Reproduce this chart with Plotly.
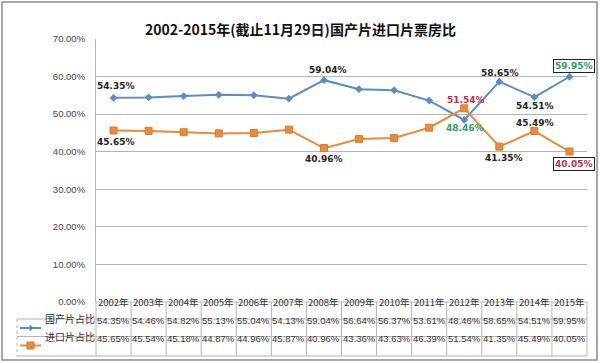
import plotly.graph_objects as go

years = ["2002年", "2003年", "2004年", "2005年", "2006年", "2007年", "2008年",
         "2009年", "2010年", "2011年", "2012年", "2013年", "2014年", "2015年"]
domestic = [54.35, 54.46, 54.82, 55.13, 55.04, 54.13, 59.04,
            56.64, 56.37, 53.61, 48.46, 58.65, 54.51, 59.95]
imported = [45.65, 45.54, 45.18, 44.87, 44.96, 45.87, 40.96,
            43.36, 43.63, 46.39, 51.54, 41.35, 45.49, 40.05]
series_names = ["国产片占比", "进口片占比"]
title = "2002-2015年(截止11月29日)国产片进口片票房比"

BLUE = "#5b8cc4"
ORANGE = "#ea8a3c"
GRID = "#b4b4b4"
W, H = 600, 363
L, R, T, B = 96, 13, 39, 61
PH = H - T - B

def py(p):  # pixel y -> paper y
    return (H - B - p) / PH

def px(p):  # pixel x -> paper x
    return (p - L) / (W - L - R)

fig = go.Figure()
fig.add_trace(go.Scatter(x=years, y=domestic, mode="lines+markers", name=series_names[0],
                         line=dict(color=BLUE, width=2),
                         marker=dict(symbol="diamond", size=6, color=BLUE)))
fig.add_trace(go.Scatter(x=years, y=imported, mode="lines+markers", name=series_names[1],
                         line=dict(color=ORANGE, width=2),
                         marker=dict(symbol="square", size=7, color=ORANGE,
                                     line=dict(color="#d87a2c", width=1))))

ann = []
# data labels: (series, index, dx, dy, color, boxed)
label_specs = [
    (0, 0, 2, -12, "#222", False),
    (1, 0, 2, 12, "#222", False),
    (0, 6, 4, -10, "#222", False),
    (1, 6, 0, 11, "#222", False),
    (1, 10, 2, -8, "#c0304a", False),
    (0, 10, 1, 8, "#2aa060", False),
    (0, 11, 1, -9, "#222", False),
    (1, 11, 5, 11, "#222", False),
    (0, 12, 1, 9, "#222", False),
    (1, 12, 1, -8, "#222", False),
    (0, 13, 5, -11, "#2aa060", True),
    (1, 13, 5, 12, "#c0304a", True),
]
data = [domestic, imported]
for s, i, dx, dy, col, boxed in label_specs:
    v = data[s][i]
    ann.append(dict(x=years[i], y=v, xref="x", yref="y", text=f"<b>{v:.2f}%</b>",
                    showarrow=False, xshift=dx, yshift=-dy,
                    font=dict(family="DejaVu Sans", size=9, color=col),
                    bordercolor="#222" if boxed else None,
                    borderwidth=1 if boxed else 0, borderpad=1,
                    bgcolor="white" if boxed else None))

# table
row_y = [311, 328, 345.5]
lines_y = [302, 319, 336.5, 356]
shapes = []
for k in range(len(years) + 1):
    xx = px(L + k * (W - L - R) / len(years))
    shapes.append(dict(type="line", xref="paper", yref="paper", x0=xx, x1=xx,
                       y0=py(lines_y[0]), y1=py(lines_y[3]),
                       line=dict(color=GRID, width=1)))
for j, ly in enumerate(lines_y):
    x0 = px(L) if j == 0 else px(17)
    shapes.append(dict(type="line", xref="paper", yref="paper", x0=x0, x1=1,
                       y0=py(ly), y1=py(ly), line=dict(color=GRID, width=1)))
shapes.append(dict(type="line", xref="paper", yref="paper", x0=px(17), x1=px(17),
                   y0=py(lines_y[1]), y1=py(lines_y[3]),
                   line=dict(color=GRID, width=1, dash="dot")))
for r, col in enumerate([BLUE, ORANGE]):
    yy = py(row_y[r + 1])
    shapes.append(dict(type="line", xref="paper", yref="paper", x0=px(20), x1=px(41),
                       y0=yy, y1=yy, line=dict(color=col, width=2)))
    cx, cy = 30.5, row_y[r + 1]
    if r == 0:
        shapes.append(dict(type="path", xref="paper", yref="paper",
                           path=f"M {px(cx-3)} {py(cy)} L {px(cx)} {py(cy-3)} L {px(cx+3)} {py(cy)} L {px(cx)} {py(cy+3)} Z",
                           fillcolor=col, line=dict(color=col, width=0)))
    else:
        shapes.append(dict(type="rect", xref="paper", yref="paper",
                           x0=px(cx - 3.5), x1=px(cx + 3.5), y0=py(cy + 3.5), y1=py(cy - 3.5),
                           fillcolor=col, line=dict(color="#d87a2c", width=1)))
    ann.append(dict(x=px(43), y=yy, xref="paper", yref="paper", text=series_names[r],
                    xanchor="left", showarrow=False,
                    font=dict(family="Noto Sans CJK SC", size=10, color="#333")))

tfont = dict(family="Liberation Sans", size=9.5, color="#333")
for i, yr in enumerate(years):
    ann.append(dict(x=yr, y=py(row_y[0]), xref="x", yref="paper", text=yr,
                    showarrow=False, font=dict(family="Noto Sans CJK SC", size=9.5, color="#333")))
    ann.append(dict(x=yr, y=py(row_y[1]), xref="x", yref="paper", text=f"{domestic[i]:.2f}%",
                    showarrow=False, font=tfont))
    ann.append(dict(x=yr, y=py(row_y[2]), xref="x", yref="paper", text=f"{imported[i]:.2f}%",
                    showarrow=False, font=tfont))

shapes.append(dict(type="rect", xref="paper", yref="paper", x0=px(2), x1=px(597),
                   y0=py(360), y1=py(2), line=dict(color="#8a8a8a", width=1.5)))

ann.append(dict(x=px(300), y=py(17), xref="paper", yref="paper", text=f"<b>{title}</b>",
                showarrow=False, font=dict(family="Noto Sans CJK SC", size=14, color="#111")))

fig.update_layout(
    width=W, height=H, margin=dict(l=L, r=R, t=T, b=B),
    paper_bgcolor="white", plot_bgcolor="white", showlegend=False,
    xaxis=dict(type="category", range=[-0.5, len(years) - 0.5], showticklabels=False,
               showgrid=False, zeroline=False, showline=False, fixedrange=True),
    yaxis=dict(range=[0, 70], dtick=10, tickformat=".2f", ticksuffix="%",
               showgrid=True, gridcolor=GRID, gridwidth=1, zeroline=False,
               showline=True, linecolor=GRID, ticks="", ticklen=0,
               ticklabelstandoff=8,
               tickfont=dict(family="Liberation Sans", size=9.5, color="#444")),
    shapes=shapes, annotations=ann,
)
fig.write_html("out.html", config={"displayModeBar": False},
               post_script="document.body.style.margin='0px';")
